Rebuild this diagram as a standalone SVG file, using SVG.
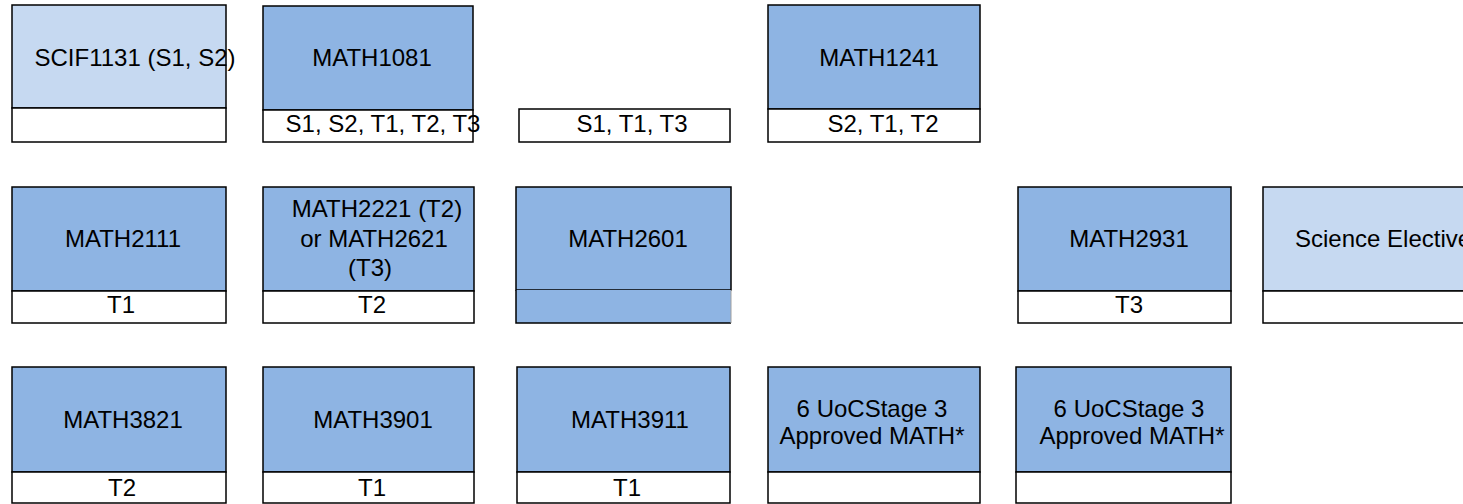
<svg xmlns="http://www.w3.org/2000/svg" width="1463" height="504" viewBox="0 0 1463 504">
<style>
.dk{fill:#8EB4E3;stroke:#000;stroke-width:1.5}
.lt{fill:#C6D9F1;stroke:#000;stroke-width:1.5}
.wh{fill:#fff;stroke:#000;stroke-width:1.5}
.bt{fill:#fff;stroke:#000;stroke-width:1.5}
text{font-family:"Liberation Sans",Arial,sans-serif;font-size:24px;fill:#000;text-anchor:middle}
</style>
<rect width="1463" height="504" fill="#fff"/>
<g id="scif1131"><rect class="lt" x="12" y="5" width="214" height="103"/><rect class="wh" x="12" y="108" width="214" height="34"/><text x="135" y="66">SCIF1131 (S1, S2)</text></g>
<g id="math1081"><rect class="dk" x="263" y="6" width="210" height="104"/><rect class="wh" x="263" y="110" width="210" height="32"/><text x="372" y="66">MATH1081</text><text x="383" y="132">S1, S2, T1, T2, T3</text></g>
<g id="s1t1t3"><rect class="wh" x="519" y="109" width="211" height="33"/><text x="632" y="132">S1, T1, T3</text></g>
<g id="math1241"><rect class="dk" x="768" y="5" width="212" height="104"/><rect class="wh" x="768" y="109" width="212" height="33"/><text x="879" y="66">MATH1241</text><text x="883" y="132">S2, T1, T2</text></g>
<g id="math2111"><rect class="dk" x="12" y="187" width="214" height="104"/><rect class="wh" x="12" y="291" width="214" height="32"/><text x="123" y="247">MATH2111</text><text x="121" y="313">T1</text></g>
<g id="math2221"><rect class="dk" x="263" y="187" width="211" height="104"/><rect class="wh" x="263" y="291" width="211" height="32"/><text x="377" y="217">MATH2221 (T2)</text><text x="374" y="247">or MATH2621</text><text x="370" y="276">(T3)</text><text x="372" y="313">T2</text></g>
<g id="math2601"><rect class="dk" x="516" y="187" width="215" height="103"/><rect x="516" y="290" width="215" height="33" fill="#8EB4E3"/><path d="M516 290V323H731" fill="none" stroke="#000" stroke-width="1.5"/><path d="M731 290V323" fill="none" stroke="#A0A0A0" stroke-width="1"/><text x="628" y="247">MATH2601</text></g>
<g id="math2931"><rect class="dk" x="1018" y="187" width="213" height="104"/><rect class="wh" x="1018" y="291" width="213" height="32"/><text x="1129" y="247">MATH2931</text><text x="1129" y="313">T3</text></g>
<g id="science"><rect class="lt" x="1263" y="187" width="220" height="104"/><rect class="wh" x="1263" y="291" width="220" height="32"/><text x="1295" y="247" style="text-anchor:start">Science Elective</text></g>
<g id="math3821"><rect class="dk" x="12" y="367" width="214" height="105"/><rect class="bt" x="12" y="472" width="214" height="31"/><text x="123" y="428">MATH3821</text><text x="122" y="496">T2</text></g>
<g id="math3901"><rect class="dk" x="263" y="367" width="211" height="105"/><rect class="bt" x="263" y="472" width="211" height="31"/><text x="373" y="428">MATH3901</text><text x="372" y="496">T1</text></g>
<g id="math3911"><rect class="dk" x="517" y="367" width="213" height="105"/><rect class="bt" x="517" y="472" width="213" height="31"/><text x="630" y="428">MATH3911</text><text x="627" y="496">T1</text></g>
<g id="uoc1"><rect class="dk" x="768" y="367" width="212" height="105"/><rect class="bt" x="768" y="472" width="212" height="31"/><text x="872" y="417">6 UoCStage 3</text><text x="872" y="444">Approved MATH*</text></g>
<g id="uoc2"><rect class="dk" x="1016" y="367" width="215" height="105"/><rect class="bt" x="1016" y="472" width="215" height="31"/><text x="1129" y="417">6 UoCStage 3</text><text x="1132" y="444">Approved MATH*</text></g>
<g id="connectors"></g>
</svg>
